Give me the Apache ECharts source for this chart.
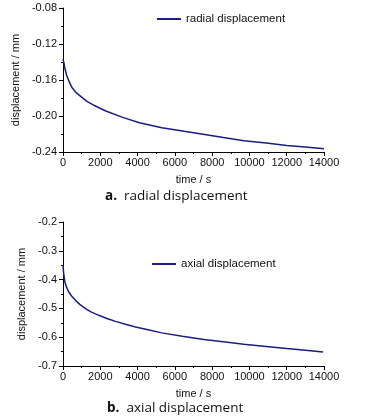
<!DOCTYPE html>
<html><head><meta charset="utf-8">
<script src="https://cdn.jsdelivr.net/npm/echarts@6/dist/echarts.min.js"></script>
<style>html,body{margin:0;padding:0;background:#fff}#c{width:365px;height:416px}</style>
</head><body><div id="c"></div>
<script>
const timeA = [0, 50, 100, 200, 350, 500, 700, 1000, 1300, 1650, 2300, 3200, 4100, 5300, 6500, 7600, 8600, 9700, 10900, 12000, 13000, 14000];
const radial = [-0.137, -0.141, -0.147, -0.155, -0.163, -0.169, -0.174, -0.179, -0.184, -0.188, -0.1945, -0.2015, -0.2075, -0.213, -0.217, -0.2205, -0.224, -0.2275, -0.230, -0.2327, -0.2345, -0.2363];
const timeB = [0, 30, 100, 200, 310, 450, 670, 900, 1210, 1500, 1920, 2350, 2820, 3300, 3890, 4500, 5300, 6400, 7560, 8600, 9700, 10900, 12000, 13000, 13950];
const axial = [-0.350, -0.375, -0.408, -0.428, -0.443, -0.456, -0.472, -0.486, -0.501, -0.512, -0.524, -0.535, -0.545, -0.554, -0.5645, -0.573, -0.585, -0.597, -0.608, -0.616, -0.6245, -0.632, -0.6395, -0.645, -0.651];
const xTicks = [0, 2000, 4000, 6000, 8000, 10000, 12000, 14000];
const yTicksA = [-0.24, -0.20, -0.16, -0.12, -0.08];
const yTicksB = [-0.7, -0.6, -0.5, -0.4, -0.3, -0.2];
const seriesNames = ['radial displacement', 'axial displacement'];
const captions = ['radial displacement', 'axial displacement'];

const font = "'Liberation Sans',Arial,sans-serif";
const lineColor = '#1c1c86';
function xAxis(gi) {
  return {
    type: 'value', gridIndex: gi, min: xTicks[0], max: xTicks[xTicks.length - 1], interval: 2000,
    name: 'time / s', nameLocation: 'middle', nameGap: 22,
    nameTextStyle: { fontFamily: font, fontSize: 11, color: '#111' },
    axisLine: { show: true, lineStyle: { color: '#000', width: 1 } },
    axisTick: { show: true, length: 4, lineStyle: { color: '#000' } },
    minorTick: { show: true, splitNumber: 2, length: 2, lineStyle: { color: '#000' } },
    splitLine: { show: false },
    axisLabel: { fontFamily: font, fontSize: 11, color: '#111', margin: 5, formatter: v => String(v) }
  };
}
function yAxis(gi, ticks, dec) {
  return {
    type: 'value', gridIndex: gi, min: ticks[0], max: ticks[ticks.length - 1],
    interval: +(ticks[1] - ticks[0]).toFixed(3),
    name: 'displacement / mm', nameLocation: 'middle', nameGap: 33, nameRotate: 90,
    nameTextStyle: { fontFamily: font, fontSize: 11, color: '#111' },
    axisLine: { show: true, lineStyle: { color: '#000', width: 1 } },
    axisTick: { show: true, length: 4, lineStyle: { color: '#000' } },
    minorTick: { show: true, splitNumber: 2, length: 2, lineStyle: { color: '#000' } },
    splitLine: { show: false },
    axisLabel: { fontFamily: font, fontSize: 11, color: '#111', margin: 6, formatter: v => v.toFixed(dec) }
  };
}
const capStyle = { fontFamily: "'Open Sans',sans-serif", fontSize: 13.5, fontWeight: 'normal', color: '#111',
  rich: { b: { fontFamily: "'Open Sans',sans-serif", fontSize: 13.5, fontWeight: 'bold', color: '#111' } } };
const chart = echarts.init(document.getElementById('c'), null, { renderer: 'canvas' });
chart.setOption({
  backgroundColor: '#fff',
  animation: false,
  grid: [
    { left: 63, top: 8, width: 261, height: 144 },
    { left: 63, top: 222, width: 261, height: 144 }
  ],
  xAxis: [xAxis(0), xAxis(1)],
  yAxis: [yAxis(0, yTicksA, 2), yAxis(1, yTicksB, 1)],
  legend: [
    { data: [seriesNames[0]], left: 152, top: 8, icon: 'rect', itemWidth: 24, itemHeight: 2, itemGap: 4,
      textStyle: { fontFamily: font, fontSize: 11.5, color: '#111' } },
    { data: [seriesNames[1]], left: 147, top: 253, icon: 'rect', itemWidth: 24, itemHeight: 2, itemGap: 4,
      textStyle: { fontFamily: font, fontSize: 11.5, color: '#111' } }
  ],
  title: [
    { text: '{b|a.}  ' + captions[0], left: 105, top: 189, padding: 0, textStyle: capStyle },
    { text: '{b|b.}  ' + captions[1], left: 107, top: 401, padding: 0, textStyle: capStyle }
  ],
  series: [
    { name: seriesNames[0], type: 'line', xAxisIndex: 0, yAxisIndex: 0, showSymbol: false, smooth: false,
      lineStyle: { color: lineColor, width: 1.5 }, itemStyle: { color: lineColor },
      data: timeA.map((t, i) => [t, radial[i]]) },
    { name: seriesNames[1], type: 'line', xAxisIndex: 1, yAxisIndex: 1, showSymbol: false, smooth: false,
      lineStyle: { color: lineColor, width: 1.5 }, itemStyle: { color: lineColor },
      data: timeB.map((t, i) => [t, axial[i]]) }
  ]
});
</script></body></html>
